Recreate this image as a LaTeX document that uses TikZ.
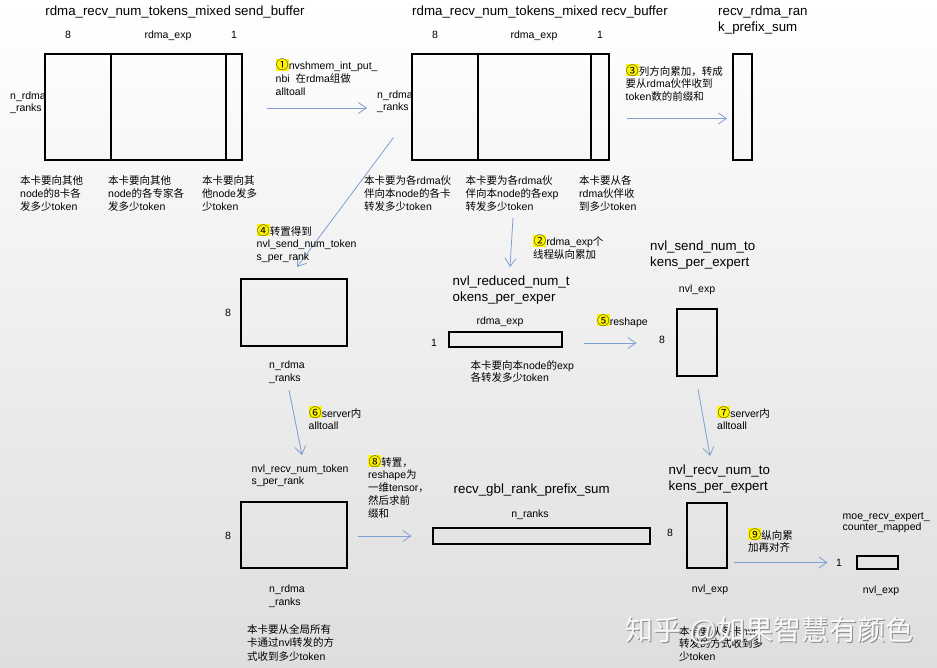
\documentclass[tikz,border=0pt]{standalone}
\usepackage{fontspec}
\setmainfont{Liberation Sans}
\newfontfamily\cjkf{Noto Sans CJK SC}
\usetikzlibrary{arrows.meta}
\XeTeXinterchartokenstate=1
\newXeTeXintercharclass\zhcls
\newcount\zhc
\zhc="4E00 \loop\ifnum\zhc<"A000 \XeTeXcharclass\zhc=\zhcls \advance\zhc by 1 \repeat
\zhc="3000 \loop\ifnum\zhc<"3040 \XeTeXcharclass\zhc=\zhcls \advance\zhc by 1 \repeat
\zhc="FF00 \loop\ifnum\zhc<"FFF0 \XeTeXcharclass\zhc=\zhcls \advance\zhc by 1 \repeat
\zhc="2460 \loop\ifnum\zhc<"2500 \XeTeXcharclass\zhc=\zhcls \advance\zhc by 1 \repeat
\XeTeXinterchartoks 0 \zhcls = {\cjkf}
\XeTeXinterchartoks 4095 \zhcls = {\cjkf}
\XeTeXinterchartoks \zhcls 0 = {\rmfamily}
\XeTeXinterchartoks \zhcls 4095 = {\rmfamily}
\definecolor{arrowblue}{RGB}{127,158,210}
\definecolor{hly}{RGB}{255,245,0}
\newcommand\hlc[1]{{\setlength{\fboxsep}{0.3pt}\colorbox{hly}{\cjkf\fontsize{12.5}{12.8}\selectfont #1}}}
\tikzset{
  ttl/.style={font=\fontsize{13.3}{15.8}\selectfont, inner sep=0pt, align=left},
  lbl/.style={font=\fontsize{10.5}{12.8}\selectfont, inner sep=0pt, align=left},
  bx/.style={draw, line width=1.1pt, inner sep=0pt, outer sep=0pt},
  flow/.style={draw=arrowblue, line width=0.8pt, -{Straight Barb[length=8pt,width=11pt]}},
}
\begin{document}
\begin{tikzpicture}[x=1pt,y=-1pt]
\shade[top color=white, middle color={rgb,255:red,243;green,243;blue,243}, bottom color={rgb,255:red,222;green,222;blue,222}] (0,0) rectangle (937,667);
\useasboundingbox (0,0) rectangle (937,667);

% ---------- send_buffer ----------
\node[ttl, anchor=base] (t1) at (175,15.5) {rdma\_recv\_num\_tokens\_mixed send\_buffer};
\node[lbl, anchor=base] (s8) at (68,38) {8};
\node[lbl, anchor=base] (sexp) at (168,38) {rdma\_exp};
\node[lbl, anchor=base] (s1) at (234,38) {1};
\node[lbl, anchor=base west] (snr) at (10,111.8) {n\_rdma\\\_ranks};
\node[bx, minimum width=197pt, minimum height=106pt] (sendbuf) at (143.5,107) {};
\draw[line width=1.1pt] (111,54) -- (111,160) (226,54) -- (226,160);
\node[lbl, anchor=base west] (sd1) at (20,210.1) {本卡要向其他\\node的8卡各\\发多少token};
\node[lbl, anchor=base west] (sd2) at (108,210.1) {本卡要向其他\\node的各专家各\\发多少token};
\node[lbl, anchor=base west] (sd3) at (202,210.1) {本卡要向其\\他node发多\\少token};

% arrow 1
\coordinate (a1s) at (267,108);
\coordinate (a1e) at (367,108);
\draw[flow] (a1s) -- (a1e);
\node[lbl, anchor=base west] (l1) at (275.5,95.1) {\hlc{①}nvshmem\_int\_put\_\\nbi\ \ 在rdma组做\\alltoall};

% ---------- recv_buffer ----------
\node[ttl, anchor=base] (t2) at (540,15.5) {rdma\_recv\_num\_tokens\_mixed recv\_buffer};
\node[lbl, anchor=base] (r8) at (435,38) {8};
\node[lbl, anchor=base] (rexp) at (534,38) {rdma\_exp};
\node[lbl, anchor=base] (r1) at (600,38) {1};
\node[lbl, anchor=base west] (rnr) at (377,110.8) {n\_rdma\\\_ranks};
\node[bx, minimum width=197pt, minimum height=106pt] (recvbuf) at (510.5,107) {};
\draw[line width=1.1pt] (478,54) -- (478,160) (591,54) -- (591,160);
\node[lbl, anchor=base west] (rd1) at (364,210.1) {本卡要为各rdma伙\\伴向本node的各卡\\转发多少token};
\node[lbl, anchor=base west] (rd2) at (465.5,210.1) {本卡要为各rdma伙\\伴向本node的各exp\\转发多少token};
\node[lbl, anchor=base west] (rd3) at (579,210.1) {本卡要从各\\rdma伙伴收\\到多少token};

% arrow 3
\coordinate (a3s) at (627,118.5);
\coordinate (a3e) at (727,118.5);
\draw[flow] (a3s) -- (a3e);
\node[lbl, anchor=base west] (l3) at (625.5,100.6) {\hlc{③}列方向累加，转成\\要从rdma伙伴收到\\token数的前缀和};

% ---------- recv_rdma_rank_prefix_sum ----------
\node[ttl, anchor=base west] (t3) at (718,31.3) {recv\_rdma\_ran\\k\_prefix\_sum};
\node[bx, minimum width=19pt, minimum height=106pt] (prefix) at (742.5,107) {};

% arrow 4
\coordinate (a4s) at (393.5,137.5);
\coordinate (a4e) at (297,267);
\draw[flow] (a4s) -- (a4e);
\node[lbl, anchor=base west] (l4) at (256.5,260.6) {\hlc{④}转置得到\\nvl\_send\_num\_token\\s\_per\_rank};

% ---------- nvl_send_num_tokens_per_rank ----------
\node[bx, minimum width=106pt, minimum height=67pt] (nsr) at (294,312.5) {};
\node[lbl, anchor=base] (nsr8) at (228,316.5) {8};
\node[lbl, anchor=base west] (nsrn) at (269,381.3) {n\_rdma\\\_ranks};

% arrow 2
\coordinate (a2s) at (513,218);
\coordinate (a2e) at (510,267);
\draw[flow] (a2s) -- (a2e);
\node[lbl, anchor=base west] (l2) at (533,258.3) {\hlc{②}rdma\_exp个\\线程纵向累加};

% ---------- nvl_reduced_num_tokens_per_exper ----------
\node[ttl, anchor=base west] (t4) at (452.5,301.3) {nvl\_reduced\_num\_t\\okens\_per\_exper};
\node[lbl, anchor=base] (nrexp) at (500,324.5) {rdma\_exp};
\node[lbl, anchor=base] (nr1) at (434,346.5) {1};
\node[bx, minimum width=113pt, minimum height=15pt] (nred) at (505.5,339.5) {};
\node[lbl, anchor=base west] (nrd) at (470.5,381.8) {本卡要向本node的exp\\各转发多少token};

% arrow 5
\coordinate (a5s) at (584,343);
\coordinate (a5e) at (636.5,343);
\draw[flow] (a5s) -- (a5e);
\node[lbl, anchor=base west] (l5) at (596.5,325) {\hlc{⑤}reshape};

% ---------- nvl_send_num_tokens_per_expert ----------
\node[ttl, anchor=base west] (t5) at (650,266.3) {nvl\_send\_num\_to\\kens\_per\_expert};
\node[lbl, anchor=base] (nseexp) at (697,292.5) {nvl\_exp};
\node[bx, minimum width=40pt, minimum height=67pt] (nse) at (697,342.5) {};
\node[lbl, anchor=base] (nse8) at (662,343.5) {8};

% arrow 7
\coordinate (a7s) at (698,389);
\coordinate (a7e) at (710,456);
\draw[flow] (a7s) -- (a7e);
\node[lbl, anchor=base west] (l7) at (717,429.8) {\hlc{⑦}server内\\alltoall};

% ---------- nvl_recv_num_tokens_per_expert ----------
\node[ttl, anchor=base west] (t6) at (668.5,490.3) {nvl\_recv\_num\_to\\kens\_per\_expert};
\node[bx, minimum width=40pt, minimum height=65pt] (nre) at (707,535.5) {};
\node[lbl, anchor=base] (nre8) at (670,536.5) {8};
\node[lbl, anchor=base] (nreexp) at (710,592.5) {nvl\_exp};
\node[lbl, anchor=base west] (nred2) at (679,660.6) {本卡要从各卡nvl\\转发的方式收到多\\少token};

% arrow 9
\coordinate (a9s) at (734,562.5);
\coordinate (a9e) at (827.5,562.5);
\draw[flow] (a9s) -- (a9e);
\node[lbl, anchor=base west] (l9) at (748,551.8) {\hlc{⑨}纵向累\\加再对齐};

% ---------- moe_recv_expert_counter_mapped ----------
\node[lbl, anchor=base west, font=\fontsize{10.5}{11.5}\selectfont] (t7) at (842.5,530.5) {moe\_recv\_expert\_\\counter\_mapped};
\node[lbl, anchor=base] (moe1) at (839,566) {1};
\node[bx, minimum width=41pt, minimum height=13pt] (moe) at (877.5,562.5) {};
\node[lbl, anchor=base] (moeexp) at (881,593.5) {nvl\_exp};

% arrow 6
\coordinate (a6s) at (289,390);
\coordinate (a6e) at (302,455);
\draw[flow] (a6s) -- (a6e);
\node[lbl, anchor=base west] (l6) at (308.5,429.8) {\hlc{⑥}server内\\alltoall};

% ---------- nvl_recv_num_tokens_per_rank ----------
\node[lbl, anchor=base west, font=\fontsize{10.5}{11.5}\selectfont] (t8) at (251.5,484) {nvl\_recv\_num\_token\\s\_per\_rank};
\node[bx, minimum width=106pt, minimum height=66pt] (nrr) at (294,535) {};
\node[lbl, anchor=base] (nrr8) at (228,539.5) {8};
\node[lbl, anchor=base west] (nrrn) at (269,605.3) {n\_rdma\\\_ranks};
\node[lbl, anchor=base west, font=\fontsize{10.5}{13.4}\selectfont] (nrrd) at (247,660.3) {本卡要从全局所有\\卡通过nvl转发的方\\式收到多少token};

% arrow 8
\coordinate (a8s) at (357.5,536);
\coordinate (a8e) at (411.5,536);
\draw[flow] (a8s) -- (a8e);
\node[lbl, anchor=base west] (l8) at (368,517.2) {\hlc{⑧}转置，\\reshape为\\一维tensor，\\然后求前\\缀和};

% ---------- recv_gbl_rank_prefix_sum ----------
\node[ttl, anchor=base west] (t9) at (453.5,493.5) {recv\_gbl\_rank\_prefix\_sum};
\node[lbl, anchor=base] (gblnr) at (530,517) {n\_ranks};
\node[bx, minimum width=217pt, minimum height=16pt] (gbl) at (541.5,536) {};

% watermark
\node[anchor=base west, inner sep=0pt, font=\cjkf\fontsize{28}{30}\selectfont, text=black!45] (wm0) at (626.5,641.5) {知乎 @如果智慧有颜色};
\node[anchor=base west, inner sep=0pt, font=\cjkf\fontsize{28}{30}\selectfont, text=white, opacity=0.92] (wm) at (625,640) {知乎 @如果智慧有颜色};
\end{tikzpicture}
\end{document}
